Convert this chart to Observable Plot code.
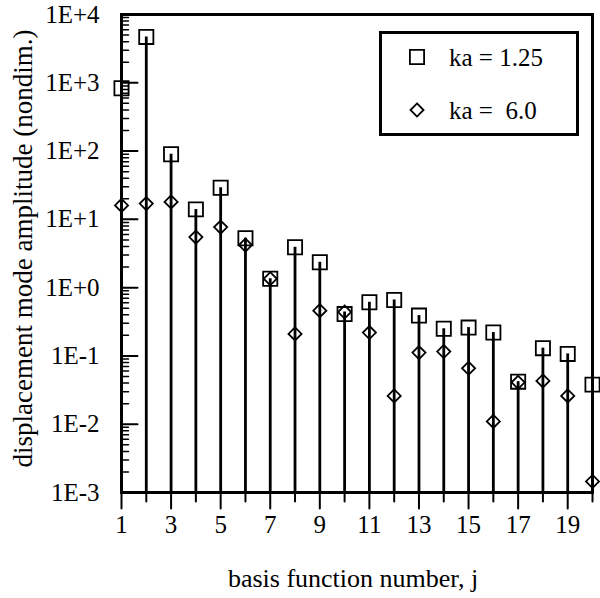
<!DOCTYPE html>
<html>
<head>
<meta charset="utf-8">
<script src="https://cdn.jsdelivr.net/npm/d3@7"></script>
<script src="https://cdn.jsdelivr.net/npm/@observablehq/plot@0.6"></script>
<style>
  body { margin: 0; background: #fff; }
  #wrap { position: relative; width: 600px; height: 598px; font-family: "Liberation Serif", "Times New Roman", serif; }
  #legend { position: absolute; left: 379px; top: 31px; }
</style>
</head>
<body>
<div id="wrap"></div>
<script>
// basis function number
const j = [1, 2, 3, 4, 5, 6, 7, 8, 9, 10, 11, 12, 13, 14, 15, 16, 17, 18, 19, 20];
// ka = 1.25 (squares)
const ampKa125 = [830, 4700, 90, 14, 29, 5.3, 1.35, 3.9, 2.35, 0.41, 0.61, 0.66, 0.39, 0.25, 0.26, 0.22, 0.042, 0.13, 0.107, 0.038];
// ka = 6.0 (diamonds)
const ampKa60 = [16, 17, 18, 5.5, 7.7, 4.2, 1.35, 0.21, 0.46, 0.44, 0.22, 0.026, 0.112, 0.116, 0.066, 0.011, 0.041, 0.043, 0.026, 0.00145];

const xTicksMajor = [1, 3, 5, 7, 9, 11, 13, 15, 17, 19];
const xTicksMinor = [2, 4, 6, 8, 10, 12, 14, 16, 18, 20];
const yTicks = [1e-3, 1e-2, 1e-1, 1e0, 1e1, 1e2, 1e3, 1e4];
const yTickLabels = ["1E-3", "1E-2", "1E-1", "1E+0", "1E+1", "1E+2", "1E+3", "1E+4"];
const legendLabels = ["ka = 1.25", "ka =\u00a0 6.0"];
const xLabel = "basis function number, j";
const yLabel = "displacement mode amplitude (nondim.)";

const yMinor = yTicks.slice(0, -1).flatMap(d => [2, 3, 4, 5, 6, 7, 8, 9].map(k => k * d));

const rows = j.map((d, i) => ({ j: d, a: ampKa125[i], b: ampKa60[i], top: Math.max(ampKa125[i], ampKa60[i]) }));

const FONT = "'Liberation Serif', 'Times New Roman', serif";

// a straight tick line drawn by the vector mark
const tickShape = { draw(context, l) { context.moveTo(0, 0); context.lineTo(0, -l); } };

const chart = Plot.plot({
  width: 600,
  height: 598,
  marginLeft: 121,
  marginRight: 8,
  marginTop: 14,
  marginBottom: 106,
  style: { fontFamily: FONT, fontSize: "25px", color: "black", background: "white" },
  x: { domain: [1, 20], axis: null },
  y: { type: "log", domain: [1e-3, 1e4], axis: null },
  marks: [
    Plot.ruleX(rows, { x: "j", y1: 1e-3, y2: "top", stroke: "black", strokeWidth: 2.8 }),
    Plot.dot(rows, { x: "j", y: "a", symbol: "square", r: 8, stroke: "black", strokeWidth: 1.8, fill: "none" }),
    Plot.dot(rows, { x: "j", y: "b", symbol: "diamond2", r: 5.9, stroke: "black", strokeWidth: 1.8, fill: "none" }),
    // y tick labels
    Plot.axisY(yTicks, { anchor: "left", tickSize: 0, tickPadding: 22, fontSize: 25, label: null,
      tickFormat: d => yTickLabels[yTicks.indexOf(d)] }),
    // inward y ticks
    Plot.vector(yTicks, { y: d => d, frameAnchor: "left", length: 16, rotate: 90, anchor: "start",
      shape: tickShape, stroke: "black", strokeWidth: 2 }),
    Plot.vector(yMinor, { y: d => d, frameAnchor: "left", length: 7, rotate: 90, anchor: "start",
      shape: tickShape, stroke: "black", strokeWidth: 1.5 }),
    // x tick labels
    Plot.axisX(xTicksMajor, { anchor: "bottom", tickSize: 0, tickPadding: 23, fontSize: 25, label: null,
      tickFormat: d => String(d) }),
    // outward x ticks
    Plot.vector(xTicksMajor, { x: d => d, frameAnchor: "bottom", length: 16, rotate: 180, anchor: "start",
      shape: tickShape, stroke: "black", strokeWidth: 2 }),
    Plot.vector(xTicksMinor, { x: d => d, frameAnchor: "bottom", length: 9, rotate: 180, anchor: "start",
      shape: tickShape, stroke: "black", strokeWidth: 2 }),
    Plot.frame({ stroke: "black", strokeWidth: 3 }),
    Plot.text([xLabel], { text: d => d, frameAnchor: "bottom", dx: -4, dy: 94, fontSize: 26 }),
    Plot.text([yLabel], { text: d => d, frameAnchor: "left", textAnchor: "middle", dx: -98.5, dy: -5, rotate: -90, fontSize: 27 })
  ]
});

const wrap = document.getElementById("wrap");
wrap.appendChild(chart);

// legend
const lg = d3.select(wrap).append("svg").attr("id", "legend")
  .attr("width", 200).attr("height", 105);
lg.append("rect").attr("x", 1.5).attr("y", 1.5).attr("width", 197).attr("height", 102)
  .attr("fill", "white").attr("stroke", "black").attr("stroke-width", 3);
const rowY = [26, 79];
lg.append("path").attr("d", d3.symbol(d3.symbolSquare, 64 * Math.PI)())
  .attr("transform", `translate(38,${rowY[0]})`).attr("fill", "none").attr("stroke", "black").attr("stroke-width", 1.8);
lg.append("path").attr("d", d3.symbol(d3.symbolDiamond2, 5.9 * 5.9 * Math.PI)())
  .attr("transform", `translate(38,${rowY[1]})`).attr("fill", "none").attr("stroke", "black").attr("stroke-width", 1.8);
legendLabels.forEach((t, i) => {
  lg.append("text").attr("x", 70).attr("y", rowY[i]).attr("dy", "0.35em")
    .attr("font-family", FONT).attr("font-size", 25).attr("fill", "black").text(t);
});
</script>
</body>
</html>
